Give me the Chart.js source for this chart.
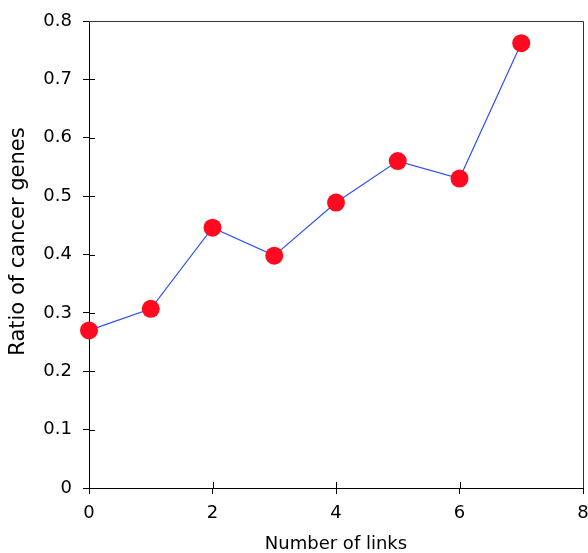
<!DOCTYPE html>
<html>
<head>
<meta charset="utf-8">
<script src="https://cdn.jsdelivr.net/npm/chart.js@4"></script>
<style>
html,body{margin:0;padding:0;background:#fff;}
#wrap{width:588px;height:553px;}
</style>
</head>
<body>
<div id="wrap"><canvas id="c" width="588" height="553"></canvas></div>
<script>
const links = [0, 1, 2, 3, 4, 5, 6, 7];
const ratio = [0.270, 0.307, 0.446, 0.398, 0.489, 0.560, 0.530, 0.762];
const xTitle = 'Number of links';
const yTitle = 'Ratio of cancer genes';
const FONT = 'DejaVu Sans, Liberation Sans, sans-serif';

const innerTicks = {
  id: 'innerTicks',
  afterDraw(chart) {
    const ctx = chart.ctx, a = chart.chartArea;
    const xs = chart.scales.x, ys = chart.scales.y;
    ctx.save();
    ctx.strokeStyle = '#000';
    ctx.lineWidth = 1;
    ctx.beginPath();
    xs.ticks.forEach(t => {
      const px = Math.round(xs.getPixelForValue(t.value)) + 0.5;
      ctx.moveTo(px, a.bottom); ctx.lineTo(px, a.bottom - 6);
    });
    ys.ticks.forEach(t => {
      const py = Math.round(ys.getPixelForValue(t.value)) + 0.5;
      ctx.moveTo(a.left, py); ctx.lineTo(a.left + 6, py);
    });
    ctx.stroke();
    ctx.strokeStyle = '#333';
    ctx.beginPath();
    ctx.moveTo(a.left, a.top + 0.5); ctx.lineTo(a.right + 0.5, a.top + 0.5);
    ctx.lineTo(a.right + 0.5, a.bottom);
    ctx.stroke();
    ctx.restore();
  }
};

new Chart(document.getElementById('c'), {
  type: 'line',
  data: {
    datasets: [{
      data: links.map((x, i) => ({x: x, y: ratio[i]})),
      borderColor: '#2d4cff',
      borderWidth: 1.2,
      pointRadius: 9,
      pointHoverRadius: 9,
      pointBackgroundColor: '#ff0a1e',
      pointBorderWidth: 0,
      tension: 0,
      clip: false
    }]
  },
  options: {
    responsive: false,
    animation: false,
    events: [],
    layout: {autoPadding: false, padding: {top: 21, right: 5, left: 0, bottom: 0}},
    plugins: {legend: {display: false}, tooltip: {enabled: false}},
    scales: {
      x: {
        type: 'linear', min: 0, max: 8,
        ticks: {stepSize: 2, color: '#000', padding: 9, maxRotation: 0,
                font: {family: FONT, size: 18}},
        grid: {drawOnChartArea: false, tickLength: 6, color: '#000'},
        border: {color: '#000', width: 1},
        title: {display: true, text: xTitle, color: '#000',
                font: {family: FONT, size: 18, lineHeight: 1},
                padding: {top: 0, bottom: 0}},
        afterFit(s) { s.height = 65; s.paddingLeft = 0; s.paddingRight = 0; }
      },
      y: {
        min: 0, max: 0.8,
        ticks: {stepSize: 0.1, color: '#000', padding: 11,
                font: {family: FONT, size: 18}},
        grid: {drawOnChartArea: false, tickLength: 6, color: '#000'},
        border: {color: '#000', width: 1},
        title: {display: true, text: yTitle, color: '#000',
                font: {family: FONT, size: 21},
                padding: {top: 6, bottom: 0}},
        afterFit(s) {
          s.width = 89; s.paddingTop = 0; s.paddingBottom = 0;
          if (!s._shiftedTitle) {
            const orig = s.drawTitle.bind(s);
            s.drawTitle = function () {
              const ctx = this.ctx;
              ctx.save(); ctx.translate(0, -13); orig(); ctx.restore();
            };
            s._shiftedTitle = true;
          }
        }
      }
    }
  },
  plugins: [innerTicks]
});
</script>
</body>
</html>
